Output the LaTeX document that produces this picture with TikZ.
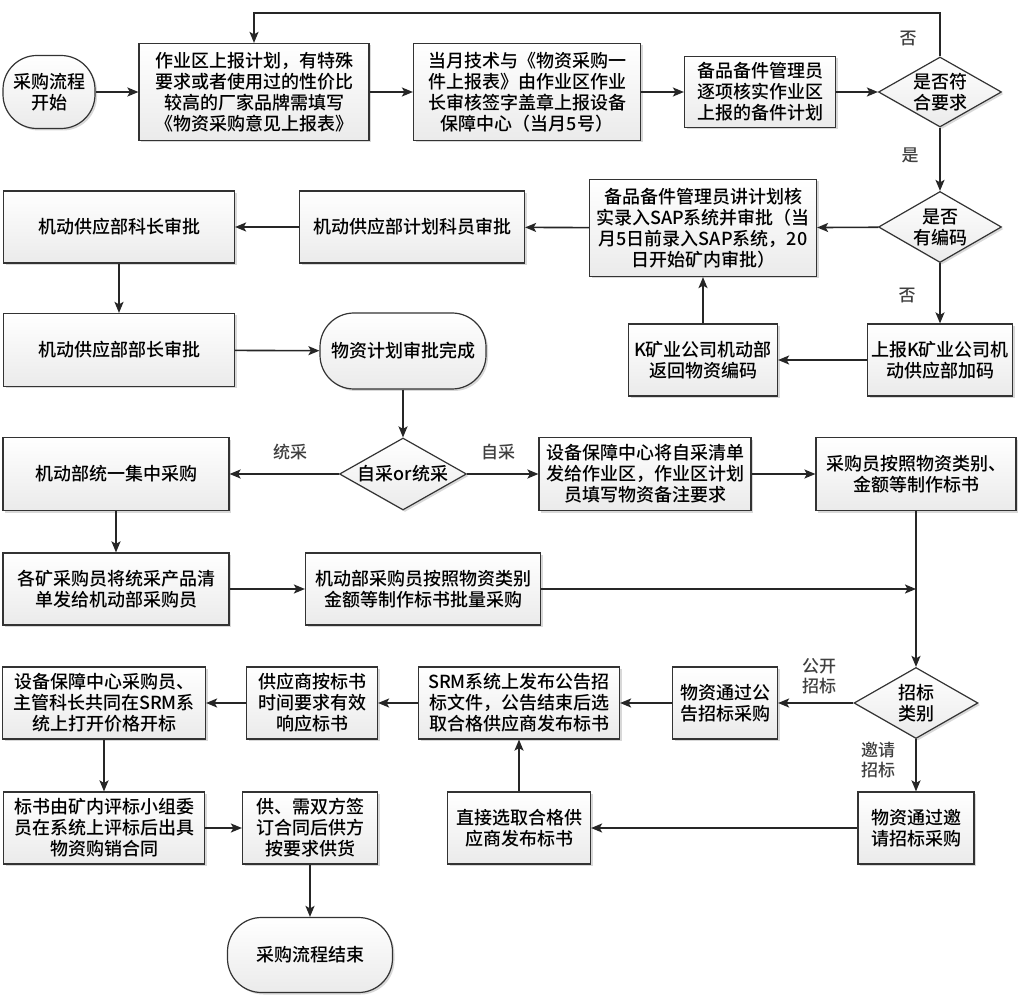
\documentclass[tikz,border=0pt]{standalone}
\usepackage{fontspec}
\setmainfont{Noto Sans CJK SC}[UprightFont = * Medium]
\usetikzlibrary{arrows.meta,shapes.geometric,shadows}

\begin{document}
\begin{tikzpicture}[x=1pt,y=-1pt,
  font=\fontsize{18}{21}\selectfont,
  box/.style={draw=black!80, line width=1.2pt, top color=white, bottom color=black!8,
    drop shadow={shadow xshift=2pt,shadow yshift=-2pt,fill=black!30}, align=center, inner sep=1pt},
  term/.style={box, rounded corners=34pt},
  choice/.style={box, diamond, aspect=1.75, inner sep=0pt},
  flow/.style={-{Stealth[length=11pt,width=9pt,inset=2.5pt]}, line width=1.6pt, draw=black!85},
  tag/.style={font=\fontsize{17}{20}\selectfont, align=center, text=black!75}]
\fill[white] (0,0) rectangle (1034,1000);
\useasboundingbox (0,0) rectangle (1034,1000);

% first row
\node[term, minimum width=92pt, minimum height=73pt] (start) at (49,92) {采购流程\\开始};
\node[box, minimum width=230pt, minimum height=97pt] (plan) at (254,92) {作业区上报计划，有特殊\\要求或者使用过的性价比\\较高的厂家品牌需填写\\《物资采购意见上报表》};
\node[box, minimum width=227pt, minimum height=97pt] (form) at (527,92) {当月技术与《物资采购一\\件上报表》由作业区作业\\长审核签字盖章上报设备\\保障中心（当月5号）};
\node[box, minimum width=151pt, minimum height=71pt] (check) at (760,92) {备品备件管理员\\逐项核实作业区\\上报的备件计划};
\node[choice, minimum width=123pt, minimum height=70pt] (ok) at (940,92) {是否符\\合要求};

% second row
\node[choice, minimum width=123pt, minimum height=71pt] (coded) at (940,227) {是否\\有编码};
\node[box, minimum width=227pt, minimum height=97pt] (sap) at (703,228) {备品备件管理员讲计划核\\实录入SAP系统并审批（当\\月5日前录入SAP系统，20\\日开始矿内审批）};
\node[box, minimum width=225pt, minimum height=72pt] (clerk) at (412,227) {机动供应部计划科员审批};
\node[box, minimum width=231pt, minimum height=72pt] (chief) at (119,227) {机动供应部科长审批};
\node[box, minimum width=145pt, minimum height=72pt] (addcode) at (940,360) {上报K矿业公司机\\动供应部加码};
\node[box, minimum width=149pt, minimum height=72pt] (retcode) at (703,360) {K矿业公司机动部\\返回物资编码};
\node[box, minimum width=231pt, minimum height=73pt] (head) at (119,350) {机动供应部部长审批};
\node[term, minimum width=166pt, minimum height=76pt] (done) at (403,351) {物资计划审批完成};

% third row
\node[choice, minimum width=127pt, minimum height=72pt] (mode) at (403,474) {自采or统采};
\node[box, minimum width=226pt, minimum height=73pt] (central) at (116,474) {机动部统一集中采购};
\node[box, minimum width=212pt, minimum height=73pt] (self) at (645,474) {设备保障中心将自采清单\\发给作业区，作业区计划\\员填写物资备注要求};
\node[box, minimum width=200pt, minimum height=73pt] (buyer) at (916,474) {采购员按照物资类别、\\金额等制作标书};
\node[box, minimum width=226pt, minimum height=72pt] (mines) at (116,589) {各矿采购员将统采产品清\\单发给机动部采购员};
\node[box, minimum width=235pt, minimum height=72pt] (batch) at (423,589) {机动部采购员按照物资类别\\金额等制作标书批量采购};

% fourth row
\node[choice, minimum width=124pt, minimum height=71pt] (kind) at (916,703) {招标\\类别};
\node[box, minimum width=105pt, minimum height=72pt] (open) at (725,703) {物资通过公\\告招标采购};
\node[box, minimum width=201pt, minimum height=72pt] (srm) at (519,703) {SRM系统上发布公告招\\标文件，公告结束后选\\取合格供应商发布标书};
\node[box, minimum width=131pt, minimum height=72pt] (reply) at (312,703) {供应商按标书\\时间要求有效\\响应标书};
\node[box, minimum width=203pt, minimum height=72pt] (openbid) at (104,703) {设备保障中心采购员、\\主管科长共同在SRM系\\统上打开价格开标};
\node[box, minimum width=116pt, minimum height=72pt] (invite) at (916,828) {物资通过邀\\请招标采购};
\node[box, minimum width=143pt, minimum height=72pt] (direct) at (519,828) {直接选取合格供\\应商发布标书};
\node[box, minimum width=201pt, minimum height=72pt] (review) at (104,828) {标书由矿内评标小组委\\员在系统上评标后出具\\物资购销合同};
\node[box, minimum width=135pt, minimum height=72pt] (sign) at (310,828) {供、需双方签\\订合同后供方\\按要求供货};
\node[term, minimum width=165pt, minimum height=75pt] (finish) at (310,955) {采购流程结束};

% branch labels
\node[tag] (no1) at (908,38) {否};
\node[tag] (yes1) at (910,155) {是};
\node[tag] (no2) at (907,295) {否};
\node[tag] (tong) at (290,452) {统采};
\node[tag] (zi) at (498,452) {自采};
\node[tag] (gongkai) at (819,676) {公开\\招标};
\node[tag] (yaoqing) at (878,760) {邀请\\招标};

% connectors
\coordinate (back) at (940,13);
\draw[flow] (start) -- (plan);
\draw[flow] (plan) -- (form);
\draw[flow] (form) -- (check);
\draw[flow] (check) -- (ok);
\draw[flow] (ok.north) -- (back) -| (plan.north);
\draw[flow] (ok) -- (coded);
\draw[flow] (coded) -- (sap);
\draw[flow] (sap) -- (clerk);
\draw[flow] (clerk) -- (chief);
\draw[flow] (chief) -- (head);
\draw[flow] (coded) -- (addcode);
\draw[flow] (addcode) -- (retcode);
\draw[flow] (retcode) -- (sap);
\draw[flow] (head) -- (done);
\draw[flow] (done) -- (mode);
\draw[flow] (mode) -- (central);
\draw[flow] (mode) -- (self);
\draw[flow] (self) -- (buyer);
\draw[flow] (central) -- (mines);
\draw[flow] (mines) -- (batch);
\draw[flow] (buyer) -- (kind);
\draw[flow] (batch) -- (batch -| buyer);
\draw[flow] (kind) -- (open);
\draw[flow] (open) -- (srm);
\draw[flow] (srm) -- (reply);
\draw[flow] (reply) -- (openbid);
\draw[flow] (kind) -- (invite);
\draw[flow] (invite) -- (direct);
\draw[flow] (direct) -- (srm);
\draw[flow] (openbid) -- (review);
\draw[flow] (review) -- (sign);
\draw[flow] (sign) -- (finish);
\end{tikzpicture}
\end{document}
